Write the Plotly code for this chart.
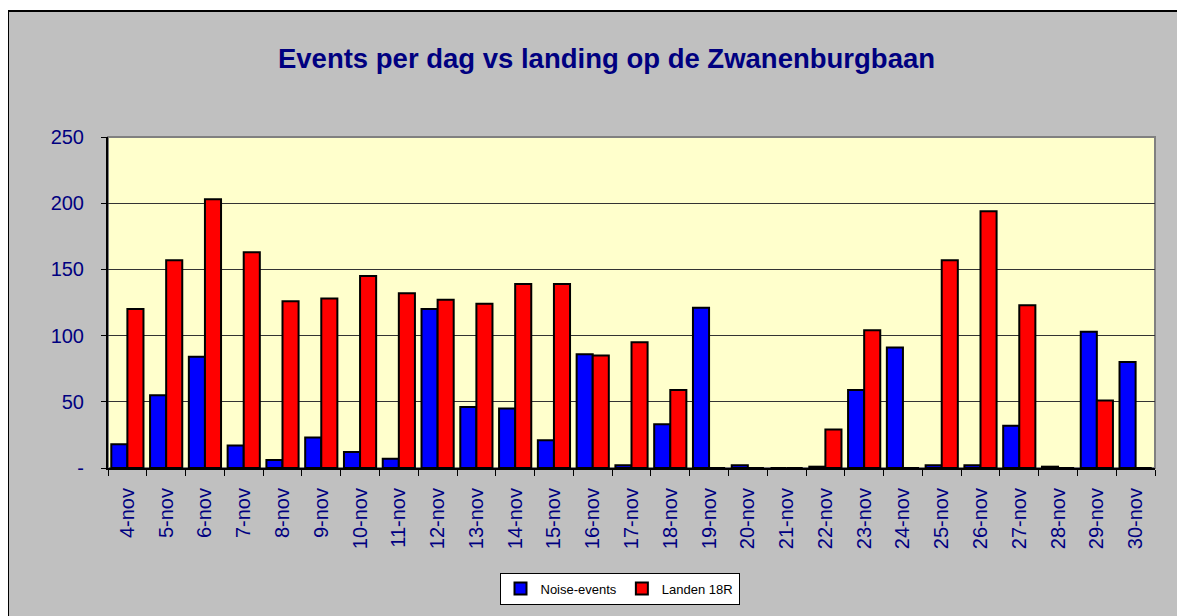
import plotly.graph_objects as go

days = ["4-nov", "5-nov", "6-nov", "7-nov", "8-nov", "9-nov", "10-nov", "11-nov", "12-nov",
        "13-nov", "14-nov", "15-nov", "16-nov", "17-nov", "18-nov", "19-nov", "20-nov",
        "21-nov", "22-nov", "23-nov", "24-nov", "25-nov", "26-nov", "27-nov", "28-nov",
        "29-nov", "30-nov"]
noise_events = [18, 55, 84, 17, 6, 23, 12, 7, 120, 46, 45, 21, 86, 2, 33, 121, 2,
                0, 1, 59, 91, 2, 2, 32, 1, 103, 80]
landen_18r = [120, 157, 203, 163, 126, 128, 145, 132, 127, 124, 139, 139, 85, 95, 59, 0, 0,
              0, 29, 104, 0, 157, 194, 123, 0, 51, 0]
y_ticks = [0, 50, 100, 150, 200, 250]
y_tick_text = ["-", "50", "100", "150", "200", "250"]

NAVY = "#000080"
FONT = "Liberation Sans, Arial, sans-serif"

fig = go.Figure()
fig.add_trace(go.Bar(x=days, y=noise_events, name="Noise-events",
                     marker=dict(color="#0000FF", line=dict(color="black", width=2))))
fig.add_trace(go.Bar(x=days, y=landen_18r, name="Landen 18R",
                     marker=dict(color="#FF0000", line=dict(color="black", width=2))))

OFF = 8  # page body margin
W, H = 1185 - OFF, 616 - OFF
# plot area in screenshot pixels: x 108..1155, y 137..468
L = 108 - OFF
R = W - (1155 - OFF)
T = 137 - OFF
B = H - (468 - OFF)
pw, ph = W - L - R, H - T - B

def px_x(p):
    return (p - OFF - L) / pw

def px_y(p):
    return (H - B - (p - OFF)) / ph

shapes = [
    # grey chart area with black border
    dict(type="rect", xref="paper", yref="paper", layer="below",
         x0=px_x(8), x1=px_x(1250), y0=px_y(660), y1=px_y(11),
         fillcolor="#C0C0C0", line=dict(color="black", width=2)),
    # plot area
    dict(type="rect", xref="paper", yref="paper", layer="below",
         x0=0, x1=1, y0=0, y1=1,
         fillcolor="#FFFFCC", line=dict(color="#808080", width=2)),
]

fig.update_layout(
    width=W, height=H,
    margin=dict(l=L, r=R, t=T, b=B),
    paper_bgcolor="white",
    plot_bgcolor="#FFFFCC",
    shapes=shapes,
    barmode="group",
    bargap=0.17,
    bargroupgap=0,
    font=dict(family=FONT, color=NAVY, size=20),
    title=dict(text="<b>Events per dag vs landing op de Zwanenburgbaan</b>",
               font=dict(family=FONT, size=27.5, color=NAVY),
               x=px_x(606.5), xref="paper", xanchor="center",
               y=1 - (58 - OFF) / H, yref="container", yanchor="middle"),
    xaxis=dict(type="category", tickangle=-90, ticks="outside", tickson="boundaries",
               ticklen=6, tickcolor="black", tickwidth=1,
               showline=True, linecolor="black", linewidth=2, mirror=False,
               showgrid=False, ticklabelstandoff=10,
               tickfont=dict(family=FONT, size=20, color=NAVY)),
    yaxis=dict(range=[0, 250], tickvals=y_ticks, ticktext=y_tick_text,
               ticks="outside", ticklen=5, tickcolor="black", tickwidth=1,
               showline=True, linecolor="black", linewidth=2,
               showgrid=True, gridcolor="#333333", gridwidth=1,
               zeroline=False, ticklabelstandoff=13,
               tickfont=dict(family=FONT, size=20, color=NAVY)),
    legend=dict(orientation="h", x=px_x(619.5), xanchor="center",
                y=px_y(588.5), yanchor="middle",
                bgcolor="white", bordercolor="black", borderwidth=1,
                font=dict(family=FONT, size=13, color="black"),
                itemwidth=30, tracegroupgap=0),
    showlegend=True,
)

fig.write_html("out.html")
